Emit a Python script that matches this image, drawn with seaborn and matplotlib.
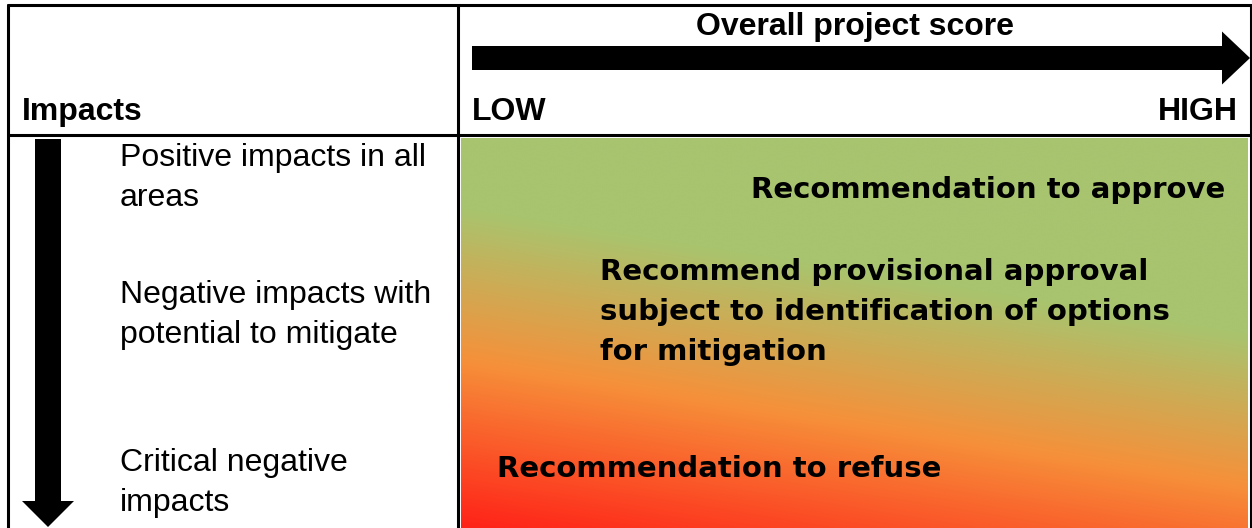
import numpy as np
import matplotlib.pyplot as plt
import seaborn as sns
from matplotlib.colors import LinearSegmentedColormap
from matplotlib.patches import FancyArrow

# labels
header_title = 'Overall project score'
header_left = 'Impacts'
score_low = 'LOW'
score_high = 'HIGH'
impact_labels = ['Positive impacts in all\nareas',
                 'Negative impacts with\npotential to mitigate',
                 'Critical negative\nimpacts']
recommendations = ['Recommendation to approve',
                   'Recommend provisional approval\nsubject to identification of options\nfor mitigation',
                   'Recommendation to refuse']

# gradient stops (position, colour)
grad_pos = [0.0, 0.18, 0.57, 1.0]
grad_colors = ['#a8c46f', '#a9c46e', '#f6903a', '#ff2218']

sns.set_theme(style='white')
plt.rcParams['font.family'] = ['Liberation Sans', 'DejaVu Sans']
plt.rcParams['text.color'] = 'black'

W, H = 1252, 528
fig = plt.figure(figsize=(W / 100, H / 100), dpi=100)
ax = fig.add_axes([0, 0, 1, 1])
ax.set_xlim(0, W)
ax.set_ylim(H, 0)
ax.axis('off')

# gradient panel (tilted linear gradient)
gx0, gx1, gy0, gy1 = 461, 1248, 138, 528
xs = np.linspace(gx0, gx1, 400)
ys = np.linspace(gy0, gy1, 400)
X, Y = np.meshgrid(xs, ys)
U = Y - 0.16 * (X - gx0)
cmap = LinearSegmentedColormap.from_list('score', list(zip(grad_pos, grad_colors)))
ax.imshow(U, extent=(gx0, gx1, gy1, gy0), cmap=cmap, vmin=gy0, vmax=gy1,
          aspect='auto', interpolation='bilinear', zorder=1)

# table lines
lw = 2.2
ax.plot([8, 8], [5, H], color='black', lw=lw, zorder=3)
ax.plot([1250.5, 1250.5], [5, H], color='black', lw=lw, zorder=3)
ax.plot([8, 1250.5], [5, 5], color='black', lw=lw, zorder=3)
ax.plot([8, 1250.5], [135, 135], color='black', lw=lw, zorder=3)
ax.plot([458, 458], [5, H], color='black', lw=lw, zorder=3)

# arrows
ax.add_patch(FancyArrow(472, 58, 778, 0, width=24, head_width=53, head_length=28,
                        length_includes_head=True, color='black', lw=0, zorder=4))
ax.add_patch(FancyArrow(48, 139, 0, 388, width=26, head_width=52, head_length=26,
                        length_includes_head=True, color='black', lw=0, zorder=4))

# header text
ax.text(855, 27, header_title, fontsize=23, fontweight='bold', ha='center', va='center')
ax.text(22, 112, header_left, fontsize=23, fontweight='bold', ha='left', va='center')
ax.text(472, 112, score_low, fontsize=23, fontweight='bold', ha='left', va='center')
ax.text(1238, 112, score_high, fontsize=23, fontweight='bold', ha='right', va='center')

# impact labels
for label, yc in zip(impact_labels, [178, 315, 483]):
    ax.text(120, yc, label, fontsize=23, ha='left', va='center', linespacing=1.42)

# recommendations
ax.text(1225, 190, recommendations[0], fontsize=21, fontweight='bold', ha='right', va='center',
        family='DejaVu Sans', zorder=5)
ax.text(600, 312, recommendations[1], fontsize=21, fontweight='bold', ha='left', va='center',
        family='DejaVu Sans', linespacing=1.55, zorder=5)
ax.text(497, 469, recommendations[2], fontsize=21, fontweight='bold', ha='left', va='center',
        family='DejaVu Sans', zorder=5)

fig.savefig('out.png', dpi=100)
